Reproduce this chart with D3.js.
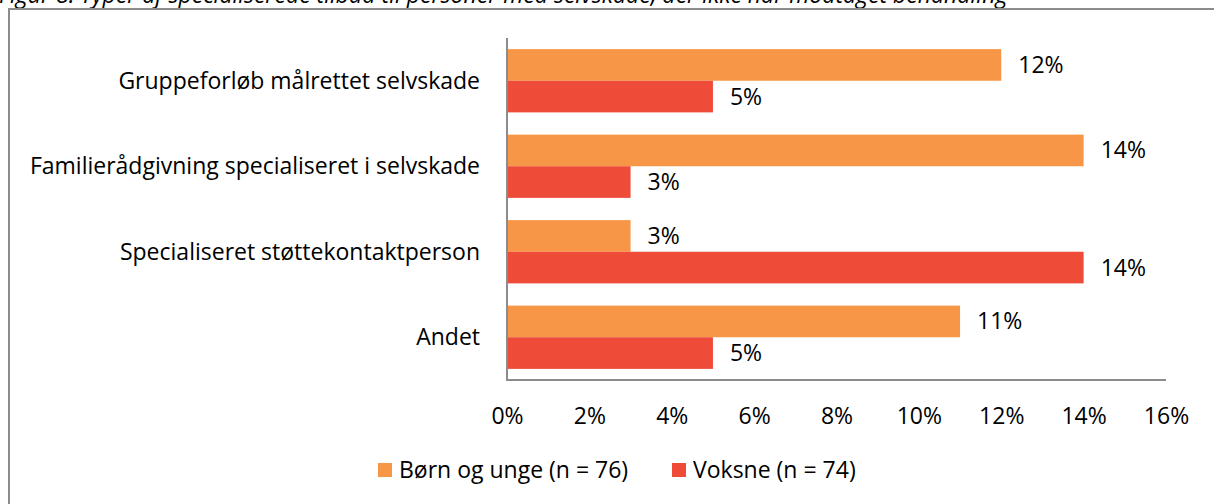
<!DOCTYPE html>
<meta charset="utf-8">
<style>
body { margin: 0; background: #fff; }
text { font-family: "Open Sans", "Noto Sans", sans-serif; fill: #000; }
.frame { fill: none; stroke: #8c8c8c; stroke-width: 2; }
.axis-line { stroke: #8c8c8c; stroke-width: 2; }
</style>
<div id="chart"></div>
<script src="https://d3js.org/d3.v7.min.js"></script>
<script>
var title = "Figur 8: Typer af specialiserede tilbud til personer med selvskade, der ikke har modtaget behandling";
var categories = ["Gruppeforløb målrettet selvskade", "Familierådgivning specialiseret i selvskade", "Specialiseret støttekontaktperson", "Andet"];
var seriesNames = ["Børn og unge (n = 76)", "Voksne (n = 74)"];
var boernUnge = [12, 14, 3, 11];
var voksne = [5, 3, 14, 5];
var xTicks = [0, 2, 4, 6, 8, 10, 12, 14, 16];
var colors = ["#f79646", "#ee4b39"];

var W = 1214, H = 504;
var fs = "23px";
var svg = d3.select("#chart").append("svg").attr("width", W).attr("height", H);

// caption (cut off at the top, as in the source) and frame
svg.append("text").attr("x", -1).attr("y", 3)
   .style("font-style", "italic").style("font-size", fs).text(title);
svg.append("rect").attr("class", "frame").attr("x", 9).attr("y", 9).attr("width", 1230).attr("height", 520);

var x = d3.scaleLinear().domain([0, 16]).range([507, 1166]);
var y = d3.scaleBand().domain(categories).range([38, 380]).paddingInner(0.26).paddingOuter(0.13);
var sub = d3.scaleBand().domain([0, 1]).range([0, y.bandwidth()]);

var rows = categories.map(function(c, i) { return { cat: c, vals: [boernUnge[i], voksne[i]] }; });

var g = svg.selectAll(".grp").data(rows).enter().append("g")
  .attr("transform", function(d) { return "translate(0," + y(d.cat) + ")"; });

g.selectAll("rect").data(function(d) { return d.vals; }).enter().append("rect")
  .attr("x", x(0))
  .attr("y", function(d, i) { return sub(i); })
  .attr("width", function(d) { return x(d) - x(0); })
  .attr("height", sub.bandwidth())
  .attr("fill", function(d, i) { return colors[i]; });

g.selectAll(".val").data(function(d) { return d.vals; }).enter().append("text")
  .attr("x", function(d) { return x(d) + 17; })
  .attr("y", function(d, i) { return sub(i) + sub.bandwidth() / 2; })
  .attr("dy", "0.35em")
  .style("font-size", fs)
  .text(function(d) { return d + "%"; });

// category labels
svg.selectAll(".cat").data(categories).enter().append("text")
  .attr("x", 480)
  .attr("y", function(d) { return y(d) + y.bandwidth() / 2; })
  .attr("dy", "0.35em")
  .attr("text-anchor", "end")
  .style("font-size", fs)
  .text(function(d) { return d; });

// axes
svg.append("line").attr("class", "axis-line").attr("x1", x(0)).attr("x2", x(0)).attr("y1", 38).attr("y2", 381);
svg.append("line").attr("class", "axis-line").attr("x1", x(0)).attr("x2", x(16)).attr("y1", 380).attr("y2", 380);

var xAxis = svg.append("g").attr("transform", "translate(0,380)")
  .call(d3.axisBottom(x).tickValues(xTicks).tickSize(0).tickPadding(28).tickFormat(function(d) { return d + "%"; }));
xAxis.select(".domain").remove();
xAxis.selectAll("text").style("font-size", fs).style("font-family", "'Open Sans', 'Noto Sans', sans-serif").attr("fill", "#000");

// legend
var legX = [378, 672];
var leg = svg.selectAll(".leg").data(seriesNames).enter().append("g")
  .attr("transform", function(d, i) { return "translate(" + legX[i] + ",463)"; });
leg.append("rect").attr("width", 14).attr("height", 14).attr("fill", function(d, i) { return colors[i]; });
leg.append("text").attr("x", 21).attr("y", 7).attr("dy", "0.35em").style("font-size", fs).text(function(d) { return d; });
</script>
